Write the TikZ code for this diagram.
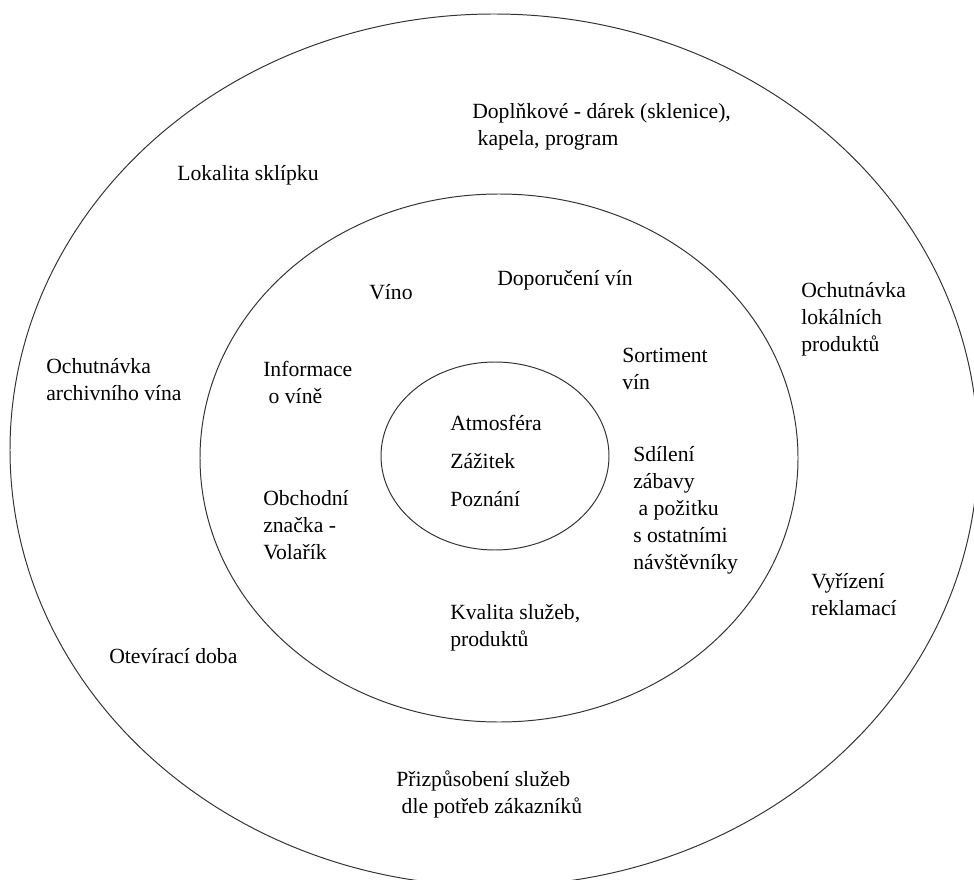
\documentclass[tikz,border=0pt]{standalone}
\usepackage{fontspec}
\setmainfont{Liberation Serif}

\begin{document}
\begin{tikzpicture}[x=0.025cm,y=-0.025cm]
  \tikzset{
    ring/.style={draw=black!80, line width=0.7pt},
    lbl/.style={anchor=base west, align=left, inner sep=0pt,
      font=\fontsize{15.4}{19.2}\selectfont},
  }
  \useasboundingbox (0,0) rectangle (974,880);

  % Rings
  \draw[ring] (494,450) ellipse [x radius=484, y radius=436];
  \draw[ring] (499,458) ellipse [x radius=299, y radius=264];
  \draw[ring] (495,456) ellipse [x radius=114, y radius=94];

  % Core (nodes sit on the baseline of their last line)
  \node[lbl, font=\fontsize{15.4}{26.8}\selectfont] (core) at (450,506)
    {Atmosféra\\Zážitek\\Poznání};

  % Middle ring
  \node[lbl] (vino) at (369,299) {Víno};
  \node[lbl] (doporuceni) at (497,285) {Doporučení vín};
  \node[lbl] (informace) at (263,403) {Informace\\\hspace*{0.25em}o víně};
  \node[lbl] (sortiment) at (622,389) {Sortiment\\vín};
  \node[lbl] (sdileni) at (633,569)
    {Sdílení\\zábavy\\\hspace*{0.25em}a požitku\\s ostatními\\návštěvníky};
  \node[lbl] (znacka) at (263,559) {Obchodní\\značka -\\Volařík};
  \node[lbl] (kvalita) at (450,646) {Kvalita služeb,\\produktů};

  % Outer ring
  \node[lbl] (doplnkove) at (472,146)
    {Doplňkové - dárek (sklenice),\\\hspace*{0.25em}kapela, program};
  \node[lbl] (lokalita) at (177,181) {Lokalita sklípku};
  \node[lbl] (lokalni) at (801,351) {Ochutnávka\\lokálních\\produktů};
  \node[lbl] (archiv) at (46,400) {Ochutnávka\\archivního vína};
  \node[lbl] (reklamace) at (811,615) {Vyřízení\\reklamací};
  \node[lbl] (doba) at (109,663) {Otevírací doba};
  \node[lbl] (potreby) at (396,813)
    {Přizpůsobení služeb\\\hspace*{0.25em}dle potřeb zákazníků};
\end{tikzpicture}
\end{document}
